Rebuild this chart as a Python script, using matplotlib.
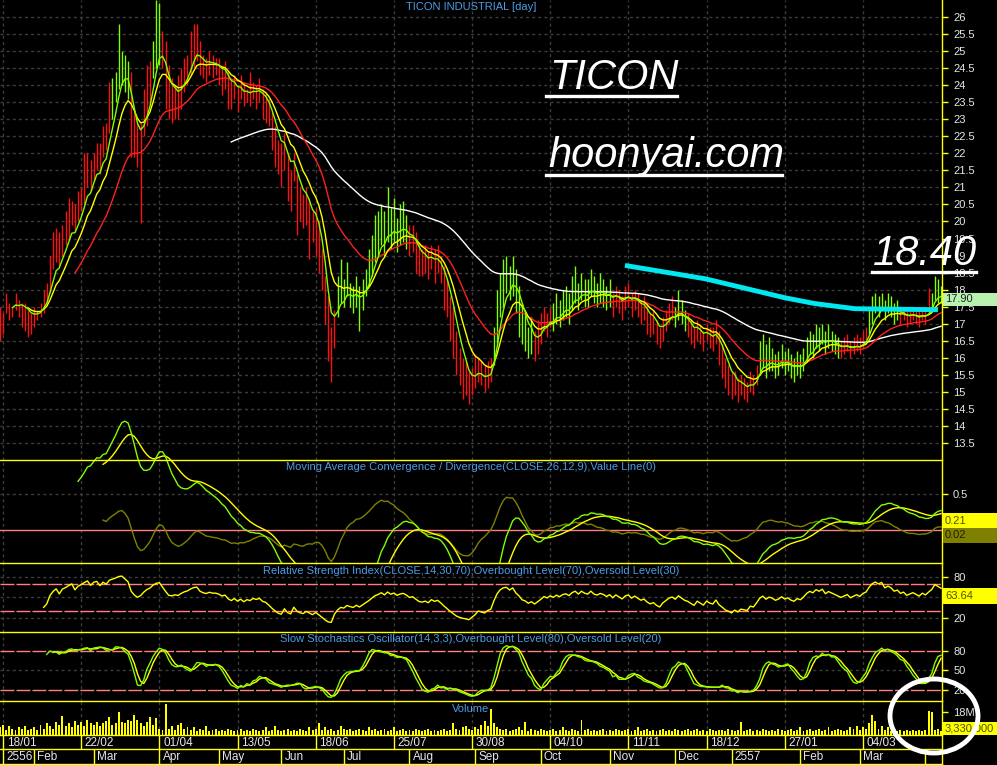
import numpy as np
import pandas as pd
import matplotlib
matplotlib.use('Agg')
import matplotlib.pyplot as plt
from matplotlib.patches import Rectangle, Ellipse
from matplotlib.lines import Line2D

plt.rcParams['font.family'] = ['Liberation Sans', 'DejaVu Sans']

# ---------------- data (daily bars, Jan 2013 - Mar 2014) ----------------
close = [17.5, 17.3, 17.6, 17.4, 17.5, 17.7, 17.5, 17.6, 17.4, 17.3, 17.1, 17.2, 17.3, 17.4,
         17.7, 17.9, 18.5, 18.9, 19.2, 18.8, 19.4, 19.6, 19.9, 20.2, 19.7,
         20.3, 20.6, 21.0, 21.4, 21.0, 21.7, 21.9, 21.5, 22.3, 22.1, 23.2, 23.6,
         24.0, 24.6, 24.8, 24.5, 24.2, 23.0, 22.4, 22.0, 22.3, 23.0, 23.6, 24.0,
         24.8, 25.4, 25.6, 25.0, 24.3, 23.6, 23.5, 23.7, 23.6, 24.0, 24.3, 24.5,
         24.9, 25.2, 25.3, 24.8, 24.6, 24.5, 24.7, 24.6, 24.6,
         24.5, 24.3, 24.4, 24.0, 23.8, 24.0,
         23.7, 23.9, 23.6, 23.8, 23.7, 23.9, 23.8, 23.9, 23.6, 23.5,
         23.2, 22.8, 22.4, 22.0, 21.8, 22.2, 21.5, 21.2, 21.8, 21.0, 20.6, 20.4,
         20.6, 20.2, 19.8, 20.0, 19.4, 18.6, 17.5, 16.3, 16.0, 17.0,
         17.6, 18.0, 17.8, 18.2, 17.9, 17.7, 18.0, 17.6, 17.9, 18.2,
         18.5, 18.9, 19.3, 19.5, 19.8, 19.5, 20.0, 19.7, 19.9, 19.6, 19.8, 19.9, 19.7,
         19.4, 19.5, 19.2, 18.9, 18.8, 18.9, 18.7, 19.0, 18.8, 18.9, 18.6, 18.2,
         17.8, 17.3, 16.8, 16.2, 15.8, 15.5, 15.3, 15.0, 15.2,
         15.4, 15.7, 15.5, 15.3, 15.5, 15.6, 16.4, 17.3, 18.0, 18.4,
         18.5, 18.2, 18.6, 18.0, 17.6, 17.0, 16.8, 16.4, 16.6, 16.2, 16.5, 16.8,
         17.2, 17.0, 17.3, 17.1, 17.4, 17.2, 17.5, 17.6, 17.4,
         17.8, 18.0, 17.7, 18.1, 17.9, 17.8, 18.2, 17.9, 17.8, 18.0, 17.9, 17.7, 17.9,
         17.6, 17.9, 17.7, 17.5, 17.8, 17.9, 17.6, 17.8, 17.6,
         17.4, 17.5, 17.2, 17.0, 17.1, 16.8, 16.6, 16.9,
         17.1, 17.3, 17.4, 17.2, 17.5, 17.3, 17.1,
         17.0, 16.8, 16.6, 16.9, 16.7, 16.5, 16.8, 16.6, 16.5, 16.8, 16.3, 16.0,
         15.6, 15.4, 15.1, 15.3, 15.0, 15.2, 15.1, 15.0, 15.3, 15.2, 15.5,
         15.9, 16.1, 15.8, 16.0,
         15.9, 15.7, 15.8, 16.0, 15.8, 15.9, 15.7, 15.6, 15.8, 15.7, 15.9,
         16.2, 16.4, 16.3, 16.6, 16.5, 16.7, 16.4, 16.6, 16.5, 16.4, 16.3,
         16.2, 16.3, 16.4, 16.2, 16.3, 16.4, 16.3, 16.5, 16.6,
         17.0, 17.4, 17.6, 17.5, 17.7, 17.4, 17.6, 17.5, 17.3, 17.4,
         17.2, 17.3, 17.1, 17.2, 17.3, 17.2, 17.1, 17.3, 17.2,
         17.4, 17.6, 18.1, 18.0, 17.9]

high = [17.5, 17.3, 17.9, 17.6, 17.5, 17.9, 17.7, 17.6, 17.6, 17.4, 17.3, 17.5, 17.4, 17.6,
        18.0, 18.2, 19.0, 19.7, 19.8, 19.7, 19.9, 20.3, 20.7, 20.6, 20.5,
        20.9, 21.0, 22.0, 22.0, 21.8, 22.0, 22.3, 22.3, 22.8, 22.9, 24.1, 24.2,
        24.4, 25.8, 25.0, 24.9, 24.7, 24.4, 23.2, 22.9, 22.9, 23.9, 24.6, 24.7,
        25.3, 26.5, 26.4, 25.6, 25.3, 24.6, 24.2, 24.0, 24.3, 24.5, 24.8, 24.9,
        25.6, 25.8, 25.8, 25.3, 24.9, 24.8, 25.0, 24.9, 24.8,
        24.8, 24.6, 24.7, 24.4, 24.2, 24.3,
        24.0, 24.3, 24.1, 23.9, 24.4, 24.1, 24.0, 24.2, 23.9, 23.8,
        23.6, 23.2, 22.8, 22.4, 22.3, 22.6, 22.0, 21.5, 22.0, 21.4, 21.0, 20.8,
        21.0, 20.7, 20.3, 20.4, 20.0, 19.2, 18.4, 17.8, 16.9, 17.4,
        18.4, 18.9, 18.3, 18.8, 18.2, 18.1, 18.4, 18.1, 18.3, 18.6,
        19.2, 19.6, 20.2, 20.3, 20.5, 20.3, 21.0, 20.4, 20.7, 20.1, 20.5, 20.6, 20.2,
        19.9, 19.9, 19.7, 19.4, 19.2, 19.3, 19.1, 19.3, 19.2, 19.3, 19.0, 18.7,
        18.3, 17.8, 17.5, 16.8, 16.3, 16.0, 15.9, 15.6, 15.7,
        16.1, 16.0, 15.9, 15.8, 15.9, 16.0, 16.9, 18.0, 18.5, 18.9,
        19.0, 18.7, 19.0, 18.6, 18.1, 17.6, 17.3, 16.9, 17.2, 16.8, 17.1, 17.3,
        17.5, 17.3, 17.5, 17.6, 17.9, 17.7, 18.0, 18.1, 17.9,
        18.4, 18.7, 18.2, 18.5, 18.3, 18.3, 18.6, 18.4, 18.2, 18.5, 18.3, 18.1, 18.3,
        17.9, 18.1, 18.0, 17.8, 18.1, 18.2, 17.9, 18.0, 17.9,
        17.7, 17.8, 17.6, 17.3, 17.4, 17.1, 16.9, 17.2,
        17.4, 17.6, 17.8, 17.5, 18.0, 17.7, 17.4,
        17.3, 17.1, 16.9, 17.1, 17.0, 16.8, 17.0, 16.9, 16.9, 17.1, 16.8, 16.4,
        16.0, 15.8, 15.6, 15.6, 15.4, 15.5, 15.4, 15.3, 15.6, 15.5, 15.8,
        16.5, 16.7, 16.4, 16.6,
        16.3, 16.1, 16.2, 16.4, 16.2, 16.3, 16.1, 16.0, 16.2, 16.1, 16.3,
        16.6, 16.8, 16.7, 17.0, 16.9, 17.0, 16.8, 17.0, 16.8, 16.7, 16.6,
        16.5, 16.6, 16.7, 16.5, 16.6, 16.7, 16.6, 16.8, 16.9,
        17.4, 17.8, 17.9, 17.8, 17.9, 17.7, 17.9, 17.8, 17.6, 17.7,
        17.5, 17.5, 17.4, 17.5, 17.5, 17.4, 17.4, 17.5, 17.5,
        18.05, 17.9, 18.4, 18.3, 18.1]

low = [16.5, 16.7, 17.3, 17.1, 17.2, 17.4, 17.2, 16.9, 16.8, 16.6, 16.7, 16.9, 17.1, 17.2,
       17.3, 17.6, 17.9, 18.6, 18.8, 18.7, 19.0, 19.3, 19.5, 19.9, 19.7,
       20.0, 20.3, 20.5, 21.0, 20.9, 21.2, 21.5, 21.4, 21.9, 22.1, 22.6, 23.0,
       23.5, 23.9, 24.0, 23.8, 23.6, 21.9, 21.9, 21.6, 19.95, 22.5, 22.8, 23.4,
       24.2, 24.5, 24.6, 24.5, 23.3, 23.0, 22.9, 23.0, 23.0, 23.3, 23.8, 24.0,
       24.3, 24.5, 24.7, 24.3, 24.2, 24.1, 24.3, 24.2, 24.3,
       24.0, 23.7, 23.9, 23.3, 23.3, 23.6,
       23.2, 23.6, 23.4, 23.5, 23.4, 23.6, 23.3, 23.5, 23.0, 22.9,
       22.8, 22.1, 21.6, 21.4, 21.0, 21.5, 20.6, 20.3, 21.2, 19.6, 20.0, 19.8,
       19.9, 18.9, 19.4, 19.0, 18.5, 18.0, 17.0, 15.9, 15.3, 16.3,
       17.2, 17.6, 17.5, 17.8, 17.5, 17.3, 17.5, 16.8, 17.4, 17.8,
       18.1, 18.4, 18.8, 19.0, 19.3, 19.0, 19.4, 19.2, 19.4, 19.1, 19.3, 19.4, 19.2,
       19.0, 19.1, 18.5, 18.4, 18.4, 18.5, 18.3, 18.6, 18.2, 18.5, 18.2, 17.4,
       17.2, 16.5, 16.0, 15.5, 15.2, 14.8, 14.9, 14.65, 14.9,
       15.1, 15.3, 15.2, 15.0, 15.1, 15.3, 15.8, 16.4, 17.2, 17.5,
       17.9, 17.7, 17.8, 17.3, 16.6, 16.4, 16.2, 16.0, 16.1, 15.9, 16.1, 16.4,
       16.8, 16.6, 16.9, 16.8, 17.0, 16.9, 17.1, 17.2, 17.0,
       17.4, 17.6, 17.4, 17.7, 17.5, 17.5, 17.8, 17.6, 17.5, 17.6, 17.5, 17.4, 17.5,
       17.2, 17.5, 17.3, 17.1, 17.4, 17.5, 17.2, 17.4, 17.2,
       17.0, 17.1, 16.7, 16.6, 16.7, 16.4, 16.3, 16.5,
       16.8, 17.0, 17.1, 16.9, 17.1, 17.0, 16.8,
       16.6, 16.4, 16.3, 16.5, 16.4, 16.2, 16.5, 16.3, 16.2, 16.4, 15.8, 15.4,
       15.1, 14.9, 14.8, 14.9, 14.7, 14.9, 14.8, 14.7, 15.0, 14.9, 15.2,
       15.5, 15.7, 15.4, 15.6,
       15.6, 15.4, 15.5, 15.7, 15.5, 15.6, 15.4, 15.3, 15.5, 15.4, 15.6,
       15.9, 16.1, 16.0, 16.3, 16.2, 16.4, 16.1, 16.3, 16.2, 16.1, 16.0,
       16.0, 16.1, 16.2, 16.0, 16.1, 16.2, 16.1, 16.3, 16.4,
       16.7, 17.0, 17.3, 17.2, 17.4, 17.1, 17.3, 17.2, 17.0, 17.1,
       17.0, 17.1, 16.9, 17.0, 17.1, 17.0, 16.9, 17.1, 17.0,
       17.3, 17.4, 17.7, 17.6, 17.6]

# bar colour runs: (colour, number of bars)
bar_runs = [('r', 36), ('g', 5), ('g', 1), ('r', 4), ('r', 3), ('g', 3), ('r', 56),
            ('g', 23), ('r', 27), ('g', 9), ('g', 4), ('r', 6), ('g', 19), ('r', 20),
            ('g', 4), ('r', 23), ('g', 26), ('r', 9), ('g', 10), ('r', 10), ('g', 4)]

# volume in millions of shares
volume = [6, 8, 4, 7, 5, 4, 6, 5, 7, 4,
          5, 6, 4, 8, 5, 9, 7, 5, 10, 8,
          15, 7, 9, 6, 11, 8, 10, 7, 12, 9,
          8, 10, 7, 9, 11, 14, 8, 9, 18, 10,
          9, 12, 11, 16, 12, 9, 7, 10, 14, 8,
          13, 5, 4, 24, 5, 7, 4, 8, 9, 5,
          6, 4, 6, 3, 5, 4, 7, 3, 4, 5,
          3, 4, 3, 5, 4, 3, 4, 5, 3, 4,
          3, 5, 4, 3, 4, 6, 3, 4, 7, 4,
          3, 4, 5, 3, 4, 3, 5, 4, 3, 6,
          4, 5, 9, 4, 6, 4, 5, 3, 4, 7,
          5, 4, 5, 3, 4, 5, 4, 3, 6, 4,
          5, 3, 4, 5, 3, 4, 6, 3, 4, 5,
          3, 4, 3, 5, 4, 3, 4, 5, 3, 4,
          3, 4, 5, 3, 4, 9, 5, 4, 6, 7,
          5, 4, 6, 5, 8, 11, 7, 20, 9, 6,
          5, 4, 5, 3, 4, 5, 6, 4, 10, 3,
          5, 4, 3, 5, 4, 3, 4, 5, 3, 4,
          6, 4, 3, 5, 4, 3, 12, 4, 5, 3,
          4, 3, 4, 5, 3, 4, 3, 5, 4, 3,
          4, 5, 3, 4, 6, 3, 4, 5, 3, 4,
          3, 4, 5, 3, 4, 3, 5, 4, 3, 4,
          5, 3, 4, 5, 3, 4, 3, 5, 4, 3,
          4, 4, 3, 5, 4, 3, 4, 10, 3, 4,
          5, 3, 4, 3, 5, 4, 3, 4, 3, 5,
          4, 3, 4, 5, 3, 4, 6, 3, 4, 5,
          3, 4, 5, 3, 4, 6, 3, 4, 5, 4,
          3, 4, 6, 5, 7, 4, 6, 5, 9, 16,
          11, 5, 7, 4, 6, 3, 4, 3, 4, 3,
          4, 3, 4, 3, 4, 3, 4, 19, 18, 4,
          5, 3.33]

# hand drawn trend line (bar index, price)
trend_idx = [199.9, 225.5, 251.1, 260.7, 273.5, 300.0]
trend_price = [18.71, 18.32, 17.76, 17.59, 17.44, 17.41]

date_idx = [1, 26, 51, 76, 101, 126, 151, 176, 201, 226, 251, 276]
date_labels = ['18/01', '22/02', '01/04', '13/05', '18/06', '25/07',
               '30/08', '04/10', '11/11', '18/12', '27/01', '04/03']
month_idx = [1, 11, 30, 51, 70, 90, 110, 131, 152, 173, 195, 216, 234, 256, 275, 296]
month_labels = ['2556', 'Feb', 'Mar', 'Apr', 'May', 'Jun', 'Jul', 'Aug', 'Sep',
                'Oct', 'Nov', 'Dec', '2557', 'Feb', 'Mar', '']

# ---------------- indicators ----------------
n = len(close)
idx = np.arange(n)
c = pd.Series(close, dtype=float)


def ema(s, span):
    e = s.ewm(span=span, adjust=False).mean()
    e[:span - 1] = np.nan
    return e


ma5 = ema(c, 5)
ma10 = ema(c, 10)
ma25 = ema(c, 25)
ma75 = ema(c, 75)

macd = c.ewm(span=12, adjust=False).mean() - c.ewm(span=26, adjust=False).mean()
macd[:25] = np.nan
sig = macd.ewm(span=9, adjust=False).mean()
sig[:33] = np.nan
hist = macd - sig

d = c.diff()
gain = d.clip(lower=0).ewm(alpha=1 / 14, adjust=False).mean()
loss = (-d.clip(upper=0)).ewm(alpha=1 / 14, adjust=False).mean()
rsi = 100 - 100 / (1 + gain / loss)
rsi[:14] = np.nan

hh = pd.Series(high).rolling(14).max()
ll = pd.Series(low).rolling(14).min()
fast_k = 100 * (c - ll) / (hh - ll)
slow_k = fast_k.rolling(3).mean()
slow_d = slow_k.rolling(3).mean()

bar_colors = []
for col, k in bar_runs:
    bar_colors += ['#ff1010' if col == 'r' else '#80ff00'] * k

# ---------------- figure ----------------
W, H = 997, 765
PR = 942
XL = (0.04, 301.3)
GRID = '#3c3c3c'
PINK = '#ff8080'
BLUE = '#4d9be6'
LIME = '#80ff00'


def fx(px):
    return px / W


def fy(py):
    return 1 - py / H


fig = plt.figure(figsize=(9.97, 7.65), dpi=100, facecolor='black')


def add_panel(top, bottom):
    ax = fig.add_axes([0, fy(bottom), fx(PR), (bottom - top) / H])
    ax.set_facecolor('black')
    ax.set_xlim(XL)
    for s in ax.spines.values():
        s.set_visible(False)
    ax.set_xticks([])
    ax.yaxis.tick_right()
    ax.tick_params(axis='y', colors='yellow', labelcolor='#e6e6e6', length=4,
                   width=1, pad=4, labelsize=8)
    for i in date_idx:
        ax.axvline(i, color=GRID, lw=1, ls=(0, (2.2, 2.2)), zorder=0)
    return ax


def hgrid(ax, vals):
    for v in vals:
        ax.axhline(v, color=GRID, lw=1, ls=(0, (2.2, 2.2)), zorder=0)


# price panel
ax_p = add_panel(0, 460)
ax_p.set_ylim(13.0, 26.5)
pt = np.arange(13.5, 26.01, 0.5)
ax_p.set_yticks(pt, [f'{t:g}' for t in pt])
hgrid(ax_p, pt)
ax_p.vlines(idx, low, high, colors=bar_colors, lw=1.0, zorder=2)
ax_p.plot(idx, ma75, color='white', lw=1, zorder=3)
ax_p.plot(idx, ma25, color='#ff2020', lw=1, zorder=3)
ax_p.plot(idx, ma10, color='yellow', lw=1, zorder=3)
ax_p.plot(idx, ma5, color=LIME, lw=1, zorder=3)
ax_p.plot(trend_idx, trend_price, color='#00e8f0', lw=3.5, solid_capstyle='butt', zorder=4)

# MACD panel
ax_m = add_panel(460, 563)
ax_m.set_ylim(-0.458, 0.972)
ax_m.set_yticks([0.5], ['0.5'])
hgrid(ax_m, [0.5])
ax_m.axhline(0, color=PINK, lw=1)
clip = Rectangle((0, 0), 1, 3, transform=ax_m.transAxes)
for ln in (ax_m.plot(idx, hist, color='#808000', lw=1)
           + ax_m.plot(idx, sig, color='yellow', lw=1)
           + ax_m.plot(idx, macd, color=LIME, lw=1)):
    ln.set_clip_path(clip)

# RSI panel
ax_r = add_panel(563, 632)
ax_r.set_ylim(-0.5, 100.5)
ax_r.set_yticks([80, 20], ['80', '20'])
hgrid(ax_r, [80, 50, 20])
for v in (70, 30):
    ax_r.axhline(v, color=PINK, lw=1, ls=(0, (10, 1.5)))
ax_r.plot(idx, rsi, color='yellow', lw=1)

# Stochastics panel
ax_s = add_panel(632, 701)
ax_s.set_ylim(3, 109)
ax_s.set_yticks([80, 50, 20], ['80', '50', '20'])
hgrid(ax_s, [50])
for v in (80, 20):
    ax_s.axhline(v, color=PINK, lw=1, ls=(0, (10, 1.5)))
ax_s.plot(idx, slow_d, color='yellow', lw=1)
ax_s.plot(idx, slow_k, color=LIME, lw=1)

# Volume panel
ax_v = add_panel(701, 735)
ax_v.set_ylim(0, 26.6)
ax_v.set_yticks([18], ['18M'])
ax_v.bar(idx, volume, width=0.62, color='yellow', zorder=2)

# date axis
ax_d = fig.add_axes([0, 0, fx(PR), 30 / H])
ax_d.set_xlim(XL)
ax_d.set_ylim(30, 0)
ax_d.axis('off')
ax_d.vlines(date_idx, 0, 14, colors='yellow', lw=1)
ax_d.vlines(month_idx, 14, 29, colors='yellow', lw=1)
for i, lab in zip(date_idx, date_labels):
    ax_d.text(i + 1.2, 7.5, lab, color='#e6e6e6', fontsize=8.5, va='center', ha='left')
for i, lab in zip(month_idx, month_labels):
    ax_d.text(i + 1.0, 22, lab, color='#e6e6e6', fontsize=8.5, va='center', ha='left')

# yellow frame lines
for y in (460, 563, 632, 701, 735, 749, 764):
    fig.add_artist(Line2D([0, fx(PR)], [fy(y), fy(y)], color='yellow', lw=1))
fig.add_artist(Line2D([fx(PR), fx(PR)], [0, 1], color='yellow', lw=1))

# panel captions
fig.text(fx(471), fy(7), 'TICON INDUSTRIAL [day]', color=BLUE, fontsize=8, ha='center', va='center')
fig.text(fx(471), fy(467), 'Moving Average Convergence / Divergence(CLOSE,26,12,9),Value Line(0)',
         color=BLUE, fontsize=8, ha='center', va='center')
fig.text(fx(471), fy(571), 'Relative Strength Index(CLOSE,14,30,70),Overbought Level(70),Oversold Level(30)',
         color=BLUE, fontsize=8, ha='center', va='center')
fig.text(fx(471), fy(639), 'Slow Stochastics Oscillator(14,3,3),Overbought Level(80),Oversold Level(20)',
         color=BLUE, fontsize=8, ha='center', va='center')
fig.text(fx(471), fy(709), 'Volume', color=BLUE, fontsize=8, ha='center', va='center')


# last value boxes on the right axis
def value_box(top, bottom, text, fc, tc):
    fig.add_artist(Rectangle((fx(943), fy(bottom)), fx(997) - fx(943), (bottom - top) / H,
                             transform=fig.transFigure, fc=fc, ec='none', zorder=5))
    fig.text(fx(945), fy((top + bottom) / 2), text, color=tc, fontsize=8,
             ha='left', va='center', zorder=6)


value_box(293, 306, '17.90', '#b8f2b0', '#202020')
value_box(513, 528, '0.21', '#ffff00', '#505000')
value_box(528, 543, '0.02', '#808000', '#202000')
value_box(588, 604, '63.64', '#ffff00', '#505000')
value_box(722, 735, '3,330,000', '#ffff00', '#505000')

# hand written notes
fig.text(fx(549), fy(89), 'TICON', color='white', fontsize=30, style='italic',
         ha='left', va='baseline', zorder=7)
fig.add_artist(Line2D([fx(546), fx(677)], [fy(96), fy(96)], color='white', lw=2.4, zorder=7))
fig.text(fx(548), fy(167), 'hoonyai.com', color='white', fontsize=30, style='italic',
         ha='left', va='baseline', zorder=7)
fig.add_artist(Line2D([fx(546), fx(782)], [fy(175), fy(175)], color='white', lw=2.4, zorder=7))
fig.text(fx(873), fy(265), '18.40', color='white', fontsize=30, style='italic',
         ha='left', va='baseline', zorder=7)
fig.add_artist(Line2D([fx(872), fx(976)], [fy(272), fy(272)], color='white', lw=2.4, zorder=7))
fig.add_artist(Ellipse((fx(934), fy(716)), 88 / W, 74 / H, transform=fig.transFigure,
                       fill=False, ec='white', lw=3.5, zorder=8))

fig.savefig('out.png', dpi=100, facecolor='black')
